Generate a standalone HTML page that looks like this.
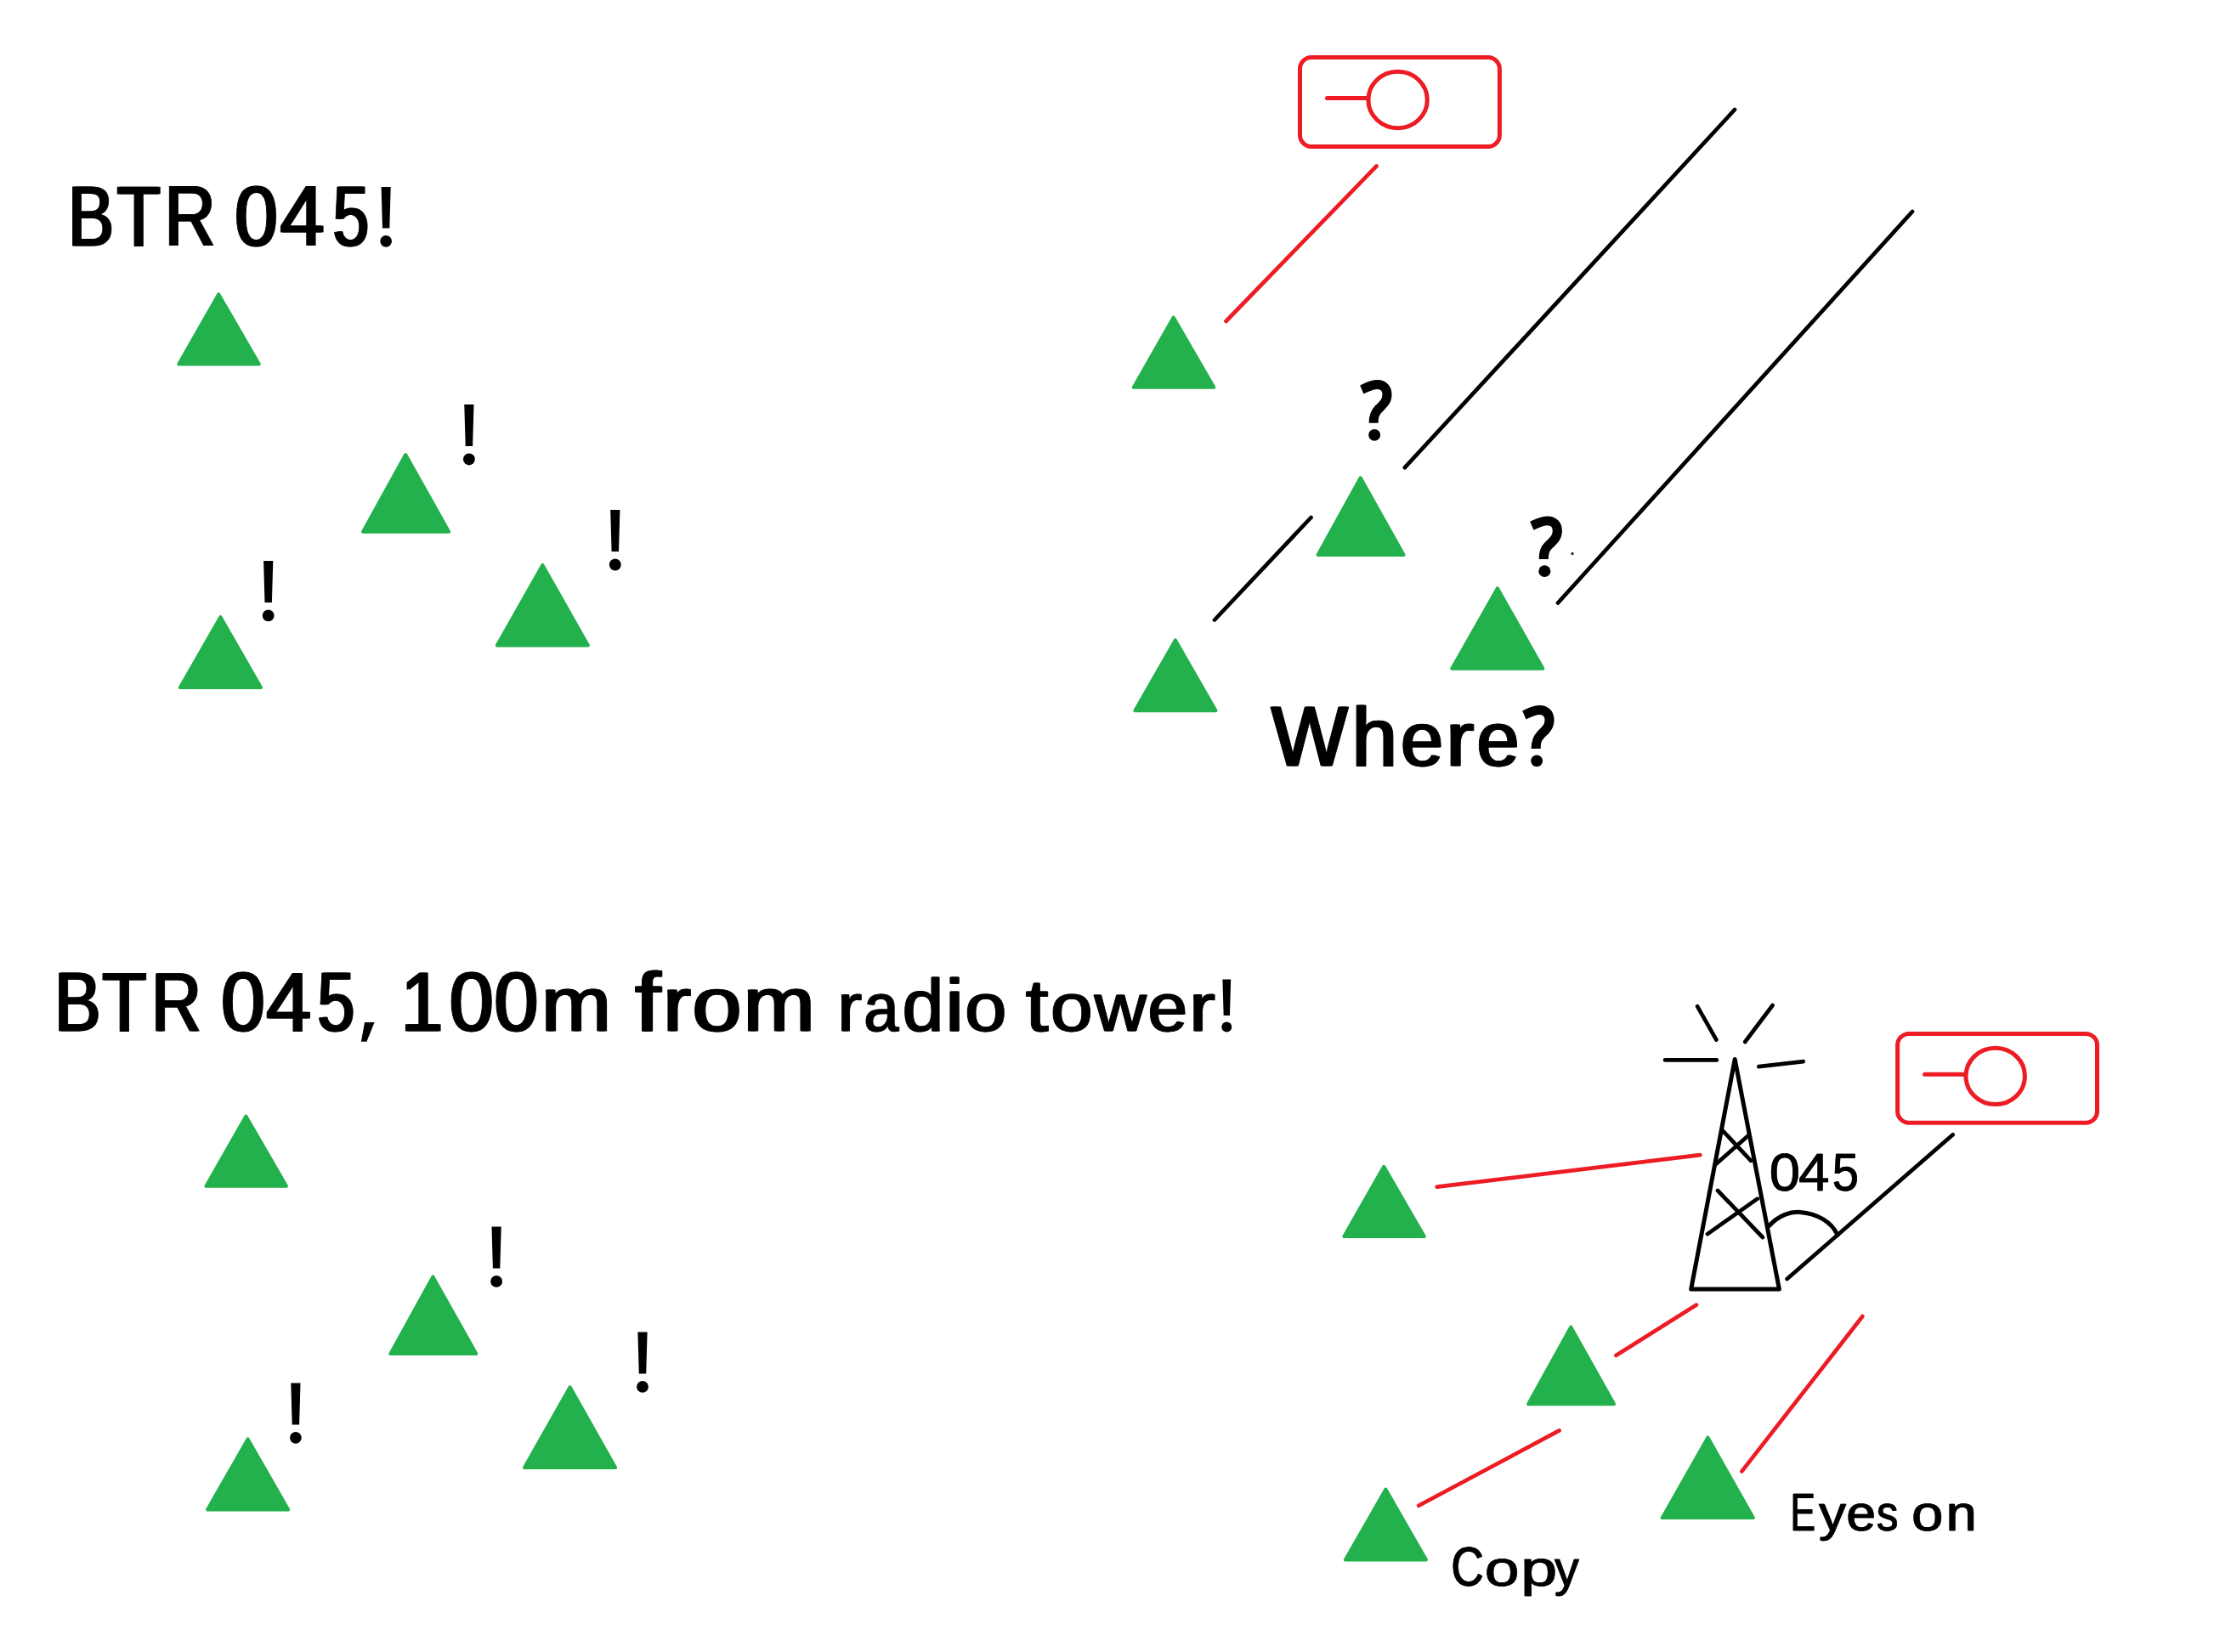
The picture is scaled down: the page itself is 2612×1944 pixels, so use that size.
<!DOCTYPE html>
<html><head><meta charset="utf-8"><title>diagram</title>
<style>
html,body{margin:0;padding:0;background:#fff;}
body{width:2612px;height:1944px;overflow:hidden;}
svg{display:block;position:absolute;left:0;top:0;}
text{font-family:"Liberation Sans",sans-serif;fill:#000;stroke:#000;stroke-linejoin:round;}
</style></head><body>
<svg width="2612" height="1944" viewBox="0 0 2612 1944">
<rect width="2612" height="1944" fill="#fff"/>
<polygon points="257.2,346.2 210.3,428.4 304.8,428.4" fill="#22b14c" stroke="#22b14c" stroke-width="4.0" stroke-linejoin="round"/>
<polygon points="477.2,535.0 427.1,625.7 528.1,625.7" fill="#22b14c" stroke="#22b14c" stroke-width="4.0" stroke-linejoin="round"/>
<polygon points="638.4,664.9 584.8,759.5 691.9,759.5" fill="#22b14c" stroke="#22b14c" stroke-width="4.0" stroke-linejoin="round"/>
<polygon points="259.4,726.0 211.9,809.0 307.0,809.0" fill="#22b14c" stroke="#22b14c" stroke-width="4.0" stroke-linejoin="round"/>
<polygon points="1380.7,373.5 1333.8,455.7 1428.3,455.7" fill="#22b14c" stroke="#22b14c" stroke-width="4.0" stroke-linejoin="round"/>
<polygon points="1600.7,562.3 1550.6,653.0 1651.6,653.0" fill="#22b14c" stroke="#22b14c" stroke-width="4.0" stroke-linejoin="round"/>
<polygon points="1761.9,692.2 1708.3,786.8 1815.4,786.8" fill="#22b14c" stroke="#22b14c" stroke-width="4.0" stroke-linejoin="round"/>
<polygon points="1382.9,753.3 1335.4,836.3 1430.5,836.3" fill="#22b14c" stroke="#22b14c" stroke-width="4.0" stroke-linejoin="round"/>
<polygon points="289.4,1313.6 242.5,1395.8 337.0,1395.8" fill="#22b14c" stroke="#22b14c" stroke-width="4.0" stroke-linejoin="round"/>
<polygon points="509.4,1502.4 459.3,1593.1 560.3,1593.1" fill="#22b14c" stroke="#22b14c" stroke-width="4.0" stroke-linejoin="round"/>
<polygon points="670.6,1632.3 617.0,1726.9 724.1,1726.9" fill="#22b14c" stroke="#22b14c" stroke-width="4.0" stroke-linejoin="round"/>
<polygon points="291.6,1693.4 244.1,1776.4 339.2,1776.4" fill="#22b14c" stroke="#22b14c" stroke-width="4.0" stroke-linejoin="round"/>
<polygon points="1628.2,1372.8 1581.3,1455.0 1675.8,1455.0" fill="#22b14c" stroke="#22b14c" stroke-width="4.0" stroke-linejoin="round"/>
<polygon points="1848.2,1561.6 1798.1,1652.3 1899.1,1652.3" fill="#22b14c" stroke="#22b14c" stroke-width="4.0" stroke-linejoin="round"/>
<polygon points="2009.4,1691.5 1955.8,1786.1 2062.9,1786.1" fill="#22b14c" stroke="#22b14c" stroke-width="4.0" stroke-linejoin="round"/>
<polygon points="1630.4,1752.6 1582.9,1835.6 1678.0,1835.6" fill="#22b14c" stroke="#22b14c" stroke-width="4.0" stroke-linejoin="round"/>
<path d="M546.28,476.00H557.52L556.11,525.04H547.69Z" fill="#000"/><circle cx="551.90" cy="540.48" r="6.92" fill="#000"/>
<path d="M718.19,600.10H729.41L728.01,649.07H719.59Z" fill="#000"/><circle cx="723.80" cy="664.49" r="6.91" fill="#000"/>
<path d="M310.10,660.10H321.30L319.90,709.00H311.50Z" fill="#000"/><circle cx="315.70" cy="724.40" r="6.90" fill="#000"/>
<path d="M578.48,1443.40H589.72L588.31,1492.44H579.89Z" fill="#000"/><circle cx="584.10" cy="1507.88" r="6.92" fill="#000"/>
<path d="M750.39,1567.50H761.61L760.21,1616.47H751.79Z" fill="#000"/><circle cx="756.00" cy="1631.89" r="6.91" fill="#000"/>
<path d="M342.30,1627.50H353.50L352.10,1676.40H343.70Z" fill="#000"/><circle cx="347.90" cy="1691.80" r="6.90" fill="#000"/>
<text transform="translate(78.66,289.20) scale(0.8122,1.0)" font-size="99.71" stroke-width="1.0">B</text>
<text transform="translate(81.16,289.20) scale(0.8122,1.0)" font-size="99.71" stroke-width="1.0">B</text>
<text transform="translate(136.31,289.20) scale(0.8443,1.0)" font-size="99.71" stroke-width="1.0">T</text>
<text transform="translate(138.81,289.20) scale(0.8443,1.0)" font-size="99.71" stroke-width="1.0">T</text>
<text transform="translate(192.42,289.20) scale(0.8293,1.0)" font-size="99.71" stroke-width="1.0">R</text>
<text transform="translate(194.92,289.20) scale(0.8293,1.0)" font-size="99.71" stroke-width="1.0">R</text>
<text transform="translate(274.95,289.20) scale(0.9126,1.0)" font-size="99.71" stroke-width="1.0">0</text>
<text transform="translate(277.45,289.20) scale(0.9126,1.0)" font-size="99.71" stroke-width="1.0">0</text>
<text transform="translate(328.35,289.20) scale(0.9394,1.0)" font-size="99.71" stroke-width="1.0">4</text>
<text transform="translate(330.85,289.20) scale(0.9394,1.0)" font-size="99.71" stroke-width="1.0">4</text>
<text transform="translate(390.45,289.20) scale(0.7636,1.0)" font-size="99.71" stroke-width="1.0">5</text>
<text transform="translate(392.95,289.20) scale(0.7636,1.0)" font-size="99.71" stroke-width="1.0">5</text>
<path d="M448.60,220.10H459.70L458.31,268.59H449.99Z" fill="#000"/><circle cx="454.15" cy="283.86" r="6.84" fill="#000"/>
<text transform="translate(1494.38,900.90) scale(0.9568,1.0)" font-size="99.71" stroke-width="1.0">W</text>
<text transform="translate(1496.88,900.90) scale(0.9568,1.0)" font-size="99.71" stroke-width="1.0">W</text>
<text transform="translate(1589.48,900.90) scale(0.9580,0.99)" font-size="99.71" stroke-width="1.0">h</text>
<text transform="translate(1591.98,900.90) scale(0.9580,0.99)" font-size="99.71" stroke-width="1.0">h</text>
<text transform="translate(1646.91,900.90) scale(0.8955,0.915)" font-size="99.71" stroke-width="1.0">e</text>
<text transform="translate(1649.41,900.90) scale(0.8955,0.915)" font-size="99.71" stroke-width="1.0">e</text>
<text transform="translate(1700.37,900.90) scale(0.9869,0.915)" font-size="99.71" stroke-width="1.0">r</text>
<text transform="translate(1702.87,900.90) scale(0.9869,0.915)" font-size="99.71" stroke-width="1.0">r</text>
<text transform="translate(1736.42,900.90) scale(0.8934,0.915)" font-size="99.71" stroke-width="1.0">e</text>
<text transform="translate(1738.92,900.90) scale(0.8934,0.915)" font-size="99.71" stroke-width="1.0">e</text>
<g transform="translate(1792.50,829.80) scale(1.0028,1.0000)"><path d="M0.8,11.6C5.5,9.6 11.5,5.6 19,5.6C26.5,5.6 30.4,10.6 30.4,17.6C30.4,25.5 25.5,29.5 20.5,34.5C16,39 14.6,43 14.6,51.2" fill="none" stroke="#000" stroke-width="11"/><circle cx="15.6" cy="65.5" r="6.9" fill="#000"/></g>
<text transform="translate(62.94,1212.90) scale(0.8242,1.0)" font-size="98.55" stroke-width="1.0">B</text>
<text transform="translate(65.41,1212.90) scale(0.8242,1.0)" font-size="98.55" stroke-width="1.0">B</text>
<text transform="translate(119.08,1212.90) scale(0.8673,1.0)" font-size="98.55" stroke-width="1.0">T</text>
<text transform="translate(121.55,1212.90) scale(0.8673,1.0)" font-size="98.55" stroke-width="1.0">T</text>
<text transform="translate(177.05,1212.90) scale(0.8225,1.0)" font-size="98.55" stroke-width="1.0">R</text>
<text transform="translate(179.52,1212.90) scale(0.8225,1.0)" font-size="98.55" stroke-width="1.0">R</text>
<text transform="translate(258.99,1212.90) scale(0.9389,1.0)" font-size="98.55" stroke-width="1.0">0</text>
<text transform="translate(261.46,1212.90) scale(0.9389,1.0)" font-size="98.55" stroke-width="1.0">0</text>
<text transform="translate(312.02,1212.90) scale(0.9631,1.0)" font-size="98.55" stroke-width="1.0">4</text>
<text transform="translate(314.49,1212.90) scale(0.9631,1.0)" font-size="98.55" stroke-width="1.0">4</text>
<text transform="translate(372.25,1212.90) scale(0.7989,1.0)" font-size="98.55" stroke-width="1.0">5</text>
<text transform="translate(374.72,1212.90) scale(0.7989,1.0)" font-size="98.55" stroke-width="1.0">5</text>
<path d="M429.05,1202.92H440.60L431.42,1225.66H424.90Z" fill="#000"/>
<text transform="translate(470.53,1212.90) scale(0.9021,1.0)" font-size="98.55" stroke-width="1.0">1</text>
<text transform="translate(473.00,1212.90) scale(0.9021,1.0)" font-size="98.55" stroke-width="1.0">1</text>
<text transform="translate(527.55,1212.90) scale(0.9474,1.0)" font-size="98.55" stroke-width="1.0">0</text>
<text transform="translate(530.02,1212.90) scale(0.9474,1.0)" font-size="98.55" stroke-width="1.0">0</text>
<text transform="translate(580.26,1212.90) scale(0.9452,1.0)" font-size="98.55" stroke-width="1.0">0</text>
<text transform="translate(582.73,1212.90) scale(0.9452,1.0)" font-size="98.55" stroke-width="1.0">0</text>
<text transform="translate(635.88,1212.90) scale(0.9968,0.915)" font-size="98.55" stroke-width="1.0">m</text>
<text transform="translate(638.35,1212.90) scale(0.9968,0.915)" font-size="98.55" stroke-width="1.0">m</text>
<text transform="translate(746.07,1212.90) scale(1.0995,0.99)" font-size="98.55" stroke-width="1.0">f</text>
<text transform="translate(748.54,1212.90) scale(1.0995,0.99)" font-size="98.55" stroke-width="1.0">f</text>
<text transform="translate(779.26,1212.90) scale(0.9834,0.915)" font-size="98.55" stroke-width="1.0">r</text>
<text transform="translate(781.74,1212.90) scale(0.9834,0.915)" font-size="98.55" stroke-width="1.0">r</text>
<text transform="translate(813.22,1212.90) scale(1.0580,0.915)" font-size="98.55" stroke-width="1.0">o</text>
<text transform="translate(815.69,1212.90) scale(1.0580,0.915)" font-size="98.55" stroke-width="1.0">o</text>
<text transform="translate(873.42,1212.90) scale(1.0214,0.915)" font-size="98.55" stroke-width="1.0">m</text>
<text transform="translate(875.89,1212.90) scale(1.0214,0.915)" font-size="98.55" stroke-width="1.0">m</text>
<text transform="translate(984.51,1213.15) scale(0.9891,0.915)" font-size="87.36" stroke-width="0.9">r</text>
<text transform="translate(986.11,1213.15) scale(0.9891,0.915)" font-size="87.36" stroke-width="0.9">r</text>
<text transform="translate(1015.74,1213.15) scale(0.8379,0.915)" font-size="87.36" stroke-width="0.9">a</text>
<text transform="translate(1017.34,1213.15) scale(0.8379,0.915)" font-size="87.36" stroke-width="0.9">a</text>
<text transform="translate(1060.89,1213.15) scale(0.9978,0.99)" font-size="87.36" stroke-width="0.9">d</text>
<text transform="translate(1062.49,1213.15) scale(0.9978,0.99)" font-size="87.36" stroke-width="0.9">d</text>
<text transform="translate(1111.25,1213.15) scale(1.1462,0.99)" font-size="87.36" stroke-width="0.9">i</text>
<text transform="translate(1112.85,1213.15) scale(1.1462,0.99)" font-size="87.36" stroke-width="0.9">i</text>
<text transform="translate(1134.57,1213.15) scale(1.0037,0.915)" font-size="87.36" stroke-width="0.9">o</text>
<text transform="translate(1136.17,1213.15) scale(1.0037,0.915)" font-size="87.36" stroke-width="0.9">o</text>
<text transform="translate(1205.89,1213.15) scale(1.1027,0.99)" font-size="87.36" stroke-width="0.9">t</text>
<text transform="translate(1207.49,1213.15) scale(1.1027,0.99)" font-size="87.36" stroke-width="0.9">t</text>
<text transform="translate(1235.21,1213.15) scale(1.0207,0.915)" font-size="87.36" stroke-width="0.9">o</text>
<text transform="translate(1236.81,1213.15) scale(1.0207,0.915)" font-size="87.36" stroke-width="0.9">o</text>
<text transform="translate(1286.97,1213.15) scale(0.9665,0.915)" font-size="87.36" stroke-width="0.9">w</text>
<text transform="translate(1288.57,1213.15) scale(0.9665,0.915)" font-size="87.36" stroke-width="0.9">w</text>
<text transform="translate(1349.81,1213.15) scale(0.9539,0.915)" font-size="87.36" stroke-width="0.9">e</text>
<text transform="translate(1351.41,1213.15) scale(0.9539,0.915)" font-size="87.36" stroke-width="0.9">e</text>
<text transform="translate(1398.59,1213.15) scale(1.0440,0.915)" font-size="87.36" stroke-width="0.9">r</text>
<text transform="translate(1400.19,1213.15) scale(1.0440,0.915)" font-size="87.36" stroke-width="0.9">r</text>
<path d="M1438.43,1152.60H1448.17L1446.95,1195.10H1439.65Z" fill="#000"/><circle cx="1443.30" cy="1208.48" r="6.00" fill="#000"/>
<text transform="translate(2081.50,1401.25) scale(1.0323,1.0)" font-size="63.23" stroke-width="0.5">0</text>
<text transform="translate(2082.00,1401.25) scale(1.0323,1.0)" font-size="63.23" stroke-width="0.5">0</text>
<text transform="translate(2115.84,1401.25) scale(1.0389,1.0)" font-size="63.23" stroke-width="0.5">4</text>
<text transform="translate(2116.34,1401.25) scale(1.0389,1.0)" font-size="63.23" stroke-width="0.5">4</text>
<text transform="translate(2155.40,1401.25) scale(0.8873,1.0)" font-size="63.23" stroke-width="0.5">5</text>
<text transform="translate(2155.90,1401.25) scale(0.8873,1.0)" font-size="63.23" stroke-width="0.5">5</text>
<text transform="translate(1707.11,1865.80) scale(0.8197,1.0)" font-size="64.54" stroke-width="0.6">C</text>
<text transform="translate(1708.01,1865.80) scale(0.8197,1.0)" font-size="64.54" stroke-width="0.6">C</text>
<text transform="translate(1746.43,1865.80) scale(1.1322,0.915)" font-size="64.54" stroke-width="0.6">o</text>
<text transform="translate(1747.33,1865.80) scale(1.1322,0.915)" font-size="64.54" stroke-width="0.6">o</text>
<text transform="translate(1788.84,1865.80) scale(1.1922,0.915)" font-size="64.54" stroke-width="0.6">p</text>
<text transform="translate(1789.74,1865.80) scale(1.1922,0.915)" font-size="64.54" stroke-width="0.6">p</text>
<text transform="translate(1828.66,1865.80) scale(0.8879,0.915)" font-size="64.54" stroke-width="0.6">y</text>
<text transform="translate(1829.56,1865.80) scale(0.8879,0.915)" font-size="64.54" stroke-width="0.6">y</text>
<text transform="translate(2106.20,1801.30) scale(0.6882,1.0)" font-size="63.81" stroke-width="0.6">E</text>
<text transform="translate(2107.10,1801.30) scale(0.6882,1.0)" font-size="63.81" stroke-width="0.6">E</text>
<text transform="translate(2139.64,1801.30) scale(0.9992,0.915)" font-size="63.81" stroke-width="0.6">y</text>
<text transform="translate(2140.54,1801.30) scale(0.9992,0.915)" font-size="63.81" stroke-width="0.6">y</text>
<text transform="translate(2172.07,1801.30) scale(0.9719,0.915)" font-size="63.81" stroke-width="0.6">e</text>
<text transform="translate(2172.97,1801.30) scale(0.9719,0.915)" font-size="63.81" stroke-width="0.6">e</text>
<text transform="translate(2207.50,1801.30) scale(0.7907,0.915)" font-size="63.81" stroke-width="0.6">s</text>
<text transform="translate(2208.40,1801.30) scale(0.7907,0.915)" font-size="63.81" stroke-width="0.6">s</text>
<text transform="translate(2248.69,1801.30) scale(1.0488,0.915)" font-size="63.81" stroke-width="0.6">o</text>
<text transform="translate(2249.59,1801.30) scale(1.0488,0.915)" font-size="63.81" stroke-width="0.6">o</text>
<text transform="translate(2289.32,1801.30) scale(1.0108,0.915)" font-size="63.81" stroke-width="0.6">n</text>
<text transform="translate(2290.22,1801.30) scale(1.0108,0.915)" font-size="63.81" stroke-width="0.6">n</text>
<g transform="translate(1601.50,447.00) scale(1.0028,0.9917)"><path d="M0.8,11.6C5.5,9.6 11.5,5.6 19,5.6C26.5,5.6 30.4,10.6 30.4,17.6C30.4,25.5 25.5,29.5 20.5,34.5C16,39 14.6,43 14.6,51.2" fill="none" stroke="#000" stroke-width="11"/><circle cx="15.6" cy="65.5" r="6.9" fill="#000"/></g>
<g transform="translate(1801.50,607.30) scale(1.0139,0.9903)"><path d="M0.8,11.6C5.5,9.6 11.5,5.6 19,5.6C26.5,5.6 30.4,10.6 30.4,17.6C30.4,25.5 25.5,29.5 20.5,34.5C16,39 14.6,43 14.6,51.2" fill="none" stroke="#000" stroke-width="11"/><circle cx="15.6" cy="65.5" r="6.9" fill="#000"/></g>
<g transform="translate(0,0)" fill="none" stroke="#ed1c24" stroke-width="5" stroke-linecap="round"><rect x="1529.5" y="67.5" width="234.9" height="104.9" rx="13.5" ry="13.5"/><ellipse cx="1644.6" cy="117.5" rx="34.7" ry="33.2"/><line x1="1561.5" y1="115.4" x2="1609" y2="115.4"/></g>
<g transform="translate(703.1,1148.9)" fill="none" stroke="#ed1c24" stroke-width="5" stroke-linecap="round"><rect x="1529.5" y="67.5" width="234.9" height="104.9" rx="13.5" ry="13.5"/><ellipse cx="1644.6" cy="117.5" rx="34.7" ry="33.2"/><line x1="1561.5" y1="115.4" x2="1609" y2="115.4"/></g>
<line x1="1619.6" y1="195.4" x2="1442.5" y2="378.0" stroke="#ed1c24" stroke-width="4.7" stroke-linecap="round"/>
<line x1="2041.0" y1="129.0" x2="1652.9" y2="550.2" stroke="#000" stroke-width="4.7" stroke-linecap="round"/>
<line x1="2250.0" y1="249.0" x2="1833.0" y2="709.5" stroke="#000" stroke-width="4.7" stroke-linecap="round"/>
<line x1="1542.5" y1="609.0" x2="1429.0" y2="729.5" stroke="#000" stroke-width="4.7" stroke-linecap="round"/>
<rect x="1848.5" y="650" width="3" height="3" fill="#333"/>
<polygon points="2041.2,1246.5 1989.7,1517 2093.4,1517" fill="none" stroke="#000" stroke-width="5" stroke-linejoin="round"/>
<line x1="1997.0" y1="1184.2" x2="2019.4" y2="1223.7" stroke="#000" stroke-width="4.7" stroke-linecap="round"/>
<line x1="2085.6" y1="1183.0" x2="2053.2" y2="1226.0" stroke="#000" stroke-width="4.7" stroke-linecap="round"/>
<line x1="1959.1" y1="1247.4" x2="2019.8" y2="1247.4" stroke="#000" stroke-width="4.7" stroke-linecap="round"/>
<line x1="2069.3" y1="1255.2" x2="2121.7" y2="1249.2" stroke="#000" stroke-width="4.7" stroke-linecap="round"/>
<line x1="2027.0" y1="1330.7" x2="2060.1" y2="1365.9" stroke="#000" stroke-width="4.7" stroke-linecap="round"/>
<line x1="2057.3" y1="1336.0" x2="2018.2" y2="1370.5" stroke="#000" stroke-width="4.7" stroke-linecap="round"/>
<line x1="2021.0" y1="1401.0" x2="2073.9" y2="1456.0" stroke="#000" stroke-width="4.7" stroke-linecap="round"/>
<line x1="2067.7" y1="1410.7" x2="2009.0" y2="1452.1" stroke="#000" stroke-width="4.7" stroke-linecap="round"/>
<line x1="2297.7" y1="1335.3" x2="2102.6" y2="1505.0" stroke="#000" stroke-width="4.7" stroke-linecap="round"/>
<path d="M2081.5,1442.5C2093,1430 2107,1425.5 2118,1426.5C2138,1428 2155,1438 2162,1453.3" fill="none" stroke="#000" stroke-width="5" stroke-linecap="round"/>
<line x1="2000.3" y1="1359.2" x2="1690.7" y2="1396.7" stroke="#ed1c24" stroke-width="4.7" stroke-linecap="round"/>
<line x1="1996.0" y1="1535.6" x2="1901.4" y2="1595.0" stroke="#ed1c24" stroke-width="4.7" stroke-linecap="round"/>
<line x1="1834.6" y1="1683.4" x2="1669.2" y2="1771.7" stroke="#ed1c24" stroke-width="4.7" stroke-linecap="round"/>
<line x1="2191.4" y1="1549.0" x2="2049.4" y2="1731.4" stroke="#ed1c24" stroke-width="4.7" stroke-linecap="round"/>
</svg>
</body></html>
